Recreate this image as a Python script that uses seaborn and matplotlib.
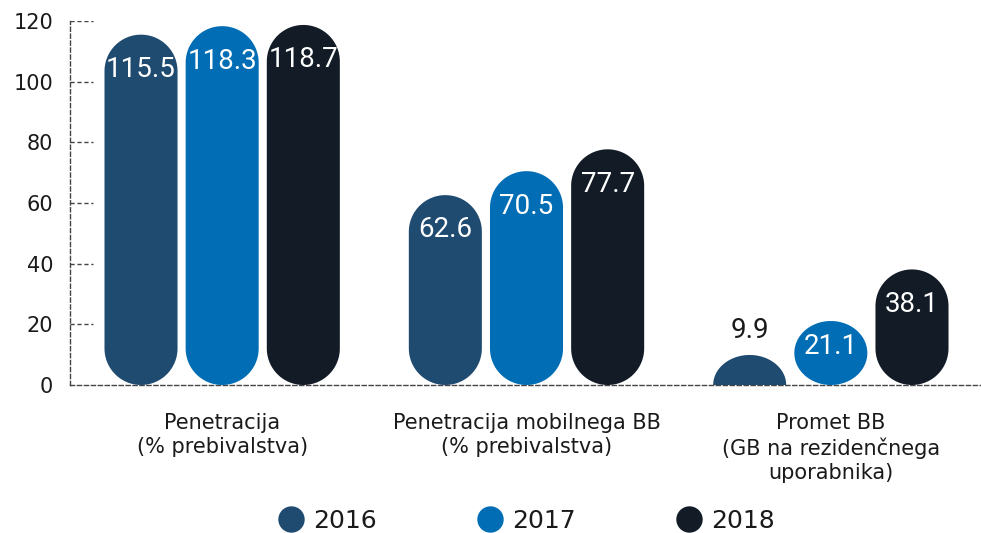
import numpy as np
import pandas as pd
import seaborn as sns
import matplotlib.pyplot as plt
from matplotlib.patches import Polygon
from matplotlib.lines import Line2D

# --- Data ---
kategorije = ['Penetracija\n(% prebivalstva)',
              'Penetracija mobilnega BB\n(% prebivalstva)',
              'Promet BB\n(GB na rezidenčnega\nuporabnika)']
leta = ['2016', '2017', '2018']
vrednosti_2016 = [115.5, 62.6, 9.9]
vrednosti_2017 = [118.3, 70.5, 21.1]
vrednosti_2018 = [118.7, 77.7, 38.1]
y_ticks = [0, 20, 40, 60, 80, 100, 120]

barve = ['#1f4b71', '#006db5', '#121b26']

df = pd.DataFrame({
    'kategorija': kategorije * 3,
    'leto': [l for l in leta for _ in kategorije],
    'vrednost': vrednosti_2016 + vrednosti_2017 + vrednosti_2018,
})

# --- Figure ---
sns.set_style('white')
plt.rcParams['font.family'] = ['DejaVu Sans']

fig = plt.figure(figsize=(9.81, 5.33), dpi=100)
ax = fig.add_axes([70 / 981, 148 / 533, 913 / 981, 364 / 533])

sns.barplot(data=df, x='kategorija', y='vrednost', hue='leto',
            palette=barve, saturation=1, width=0.8, gap=0.1,
            legend=False, ax=ax)

ax.set_xlim(-0.5, 2.5)
ax.set_ylim(0, 120)
ax.set_xlabel('')
ax.set_ylabel('')

# replace rectangles with rounded (pill) shapes
fig.canvas.draw()
px_x = ax.transData.transform((1, 0))[0] - ax.transData.transform((0, 0))[0]
px_y = ax.transData.transform((0, 1))[1] - ax.transData.transform((0, 0))[1]

rects = [p for p in list(ax.patches) if p.get_height() > 0]
for p in rects:
    x0, w, h = p.get_x(), p.get_width(), p.get_height()
    cx = x0 + w / 2
    rx = w / 2
    ry = rx * px_x / px_y
    col = p.get_facecolor()
    p.set_visible(False)
    t = np.linspace(0, np.pi, 60)
    if h < ry:
        # dome
        pts = np.column_stack([cx + rx * np.cos(t), h * np.sin(t)])
        pts = np.vstack([[cx + rx, 0], pts, [cx - rx, 0]])
    elif h < 2 * ry:
        t2 = np.linspace(0, 2 * np.pi, 120)
        pts = np.column_stack([cx + rx * np.cos(t2), h / 2 + h / 2 * np.sin(t2)])
    else:
        top = np.column_stack([cx + rx * np.cos(t), h - ry + ry * np.sin(t)])
        bot = np.column_stack([cx - rx * np.cos(t), ry - ry * np.sin(t)])
        pts = np.vstack([top, bot])
    ax.add_patch(Polygon(pts, closed=True, facecolor=col, edgecolor='none',
                         zorder=3))

    # value label
    if h < ry * 1.25:
        ax.text(cx, h + 8, f'{h:.1f}', ha='center', va='center',
                fontsize=20, color='#1a1a1a', family=['Roboto', 'DejaVu Sans'],
                zorder=4)
    else:
        yl = max(h - 11.5, h * 0.6)
        ax.text(cx, yl, f'{h:.1f}', ha='center', va='center',
                fontsize=20, color='white', family=['Roboto', 'DejaVu Sans'],
                zorder=4)

# axes styling
for s in ['top', 'right']:
    ax.spines[s].set_visible(False)
for s in ['left', 'bottom']:
    ax.spines[s].set_linestyle((0, (3, 2)))
    ax.spines[s].set_color('#444444')
    ax.spines[s].set_linewidth(1)

ax.set_yticks(y_ticks)
ax.set_yticklabels([str(v) for v in y_ticks])
ax.tick_params(axis='y', length=0, pad=12, labelsize=15, labelcolor='#1a1a1a')
ax.hlines(y_ticks[1:], 0, 23 / 913, transform=ax.get_yaxis_transform(),
          colors='#444444', linestyles=(0, (3, 2)), linewidth=1, zorder=1)

ax.set_xticks([0, 1, 2])
ax.set_xticklabels(kategorije, linespacing=1.25)
ax.tick_params(axis='x', length=0, pad=20, labelsize=15, labelcolor='#1a1a1a')
ax.set_xticks([0.5, 1.5], minor=True)
ax.tick_params(axis='x', which='minor', length=5, width=0.8, color='#666666',
               direction='out')

# legend
handles = [Line2D([0], [0], marker='o', linestyle='', markersize=19,
                  markerfacecolor=c, markeredgecolor='none') for c in barve]
fig.legend(handles, leta, loc='center', bbox_to_anchor=(526 / 981, 12 / 533),
           ncol=3, frameon=False, fontsize=18, handlelength=1.05,
           handletextpad=0.36, columnspacing=4.0, borderpad=0,
           labelcolor='#1a1a1a')

fig.savefig('out.png', dpi=100)
